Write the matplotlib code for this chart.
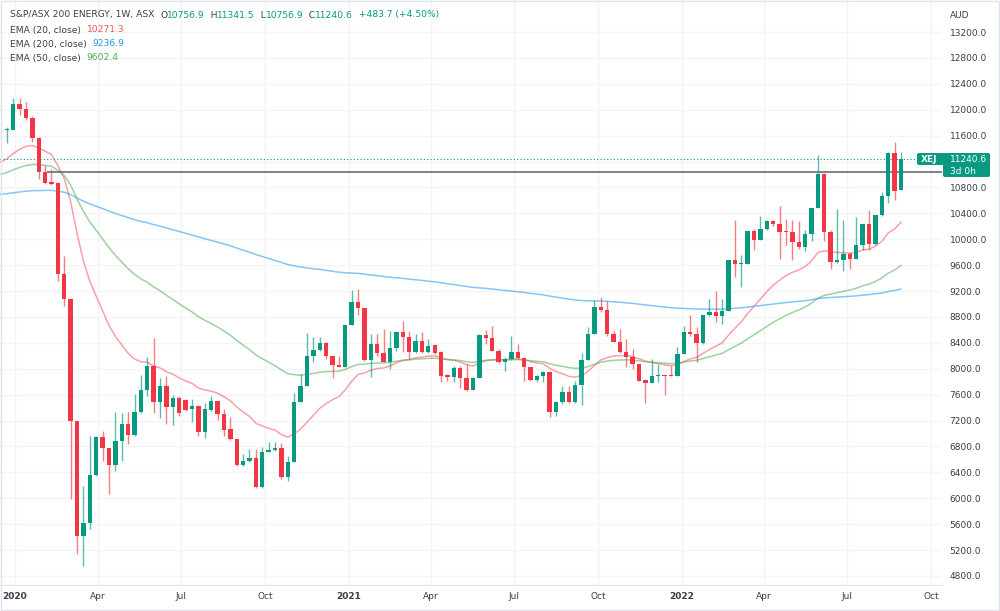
import matplotlib.pyplot as plt
import matplotlib.dates as mdates
from matplotlib.patches import Rectangle, FancyBboxPatch
from matplotlib.transforms import IdentityTransform
import numpy as np
import pandas as pd


# weekly candles, S&P/ASX 200 Energy (XEJ), first week starts 2019-12-23
first_week = "2019-12-23"

opens = [11680, 11694, 12086, 12019, 11880, 11571, 11040, 10885, 10869, 9467,
         9070, 7198, 5420, 5626, 6358, 6941, 6770, 6518, 6879, 7147,
         6982, 7327, 7678, 8049, 7482, 7740, 7404, 7549, 7518, 7379,
         7420, 7028, 7363, 7497, 7301, 7069, 6915, 6512, 6580, 6621,
         6167, 6719, 6745, 6776, 6322, 6564, 7492, 7734, 8204, 8297,
         8400, 8194, 8060, 8034, 8678, 9039, 8941, 8137, 8384, 8245,
         8111, 8317, 8565, 8487, 8266, 8426, 8266, 8369, 8266, 7909,
         7868, 8012, 7858, 7672, 7858, 8528, 8477, 8281, 8110, 8146,
         8255, 8167, 8023, 7832, 7894, 7956, 7327, 7492, 7636, 7481,
         7755, 8136, 8538, 8951, 8915, 8539, 8420, 8266, 8188, 8075,
         7827, 7781, 7895, 7905, 7905, 7895, 8230, 8565, 8539, 8395,
         8823, 8874, 8822, 8889, 9673, 9621, 9621, 10127, 9992, 10163,
         10281, 10230, 10127, 10111, 9956, 9879, 10085, 10487, 11013, 10111,
         9647, 9683, 9766, 9699, 9905, 10230, 9920, 10369, 10663, 11333,
         10756.9]
highs = [11740, 12189, 12174, 12122, 11900, 11580, 11143, 11091, 10880, 9740,
         9080, 7200, 6193, 6966, 6966, 7044, 6775, 7338, 7317, 7338,
         7611, 7910, 8178, 8472, 7853, 7894, 7600, 7585, 7533, 7533,
         7430, 7466, 7585, 7508, 7379, 7260, 6920, 6683, 6760, 6760,
         6786, 6873, 6873, 6847, 6657, 7621, 7920, 8552, 8487, 8487,
         8420, 8200, 8204, 8694, 9220, 9235, 8945, 8539, 8539, 8617,
         8591, 8591, 8745, 8591, 8539, 8565, 8462, 8385, 8270, 7912,
         8049, 8049, 8074, 7878, 8538, 8600, 8667, 8306, 8188, 8513,
         8384, 8177, 8025, 7900, 7960, 7960, 7507, 7739, 7739, 7817,
         8239, 8642, 9060, 9106, 9044, 8591, 8616, 8462, 8307, 8080,
         7830, 8152, 8075, 7910, 8049, 8333, 8668, 8823, 8642, 8823,
         9080, 9199, 9080, 9680, 10292, 9750, 10135, 10163, 10354, 10300,
         10290, 10508, 10317, 10292, 10281, 10137, 10490, 11297, 11020, 10147,
         10472, 10302, 9800, 10343, 10240, 10446, 10375, 10730, 11340, 11503,
         11341.5]
lows = [11480, 11680, 11916, 11839, 11504, 10926, 10859, 10833, 9353, 8977,
        5987, 5146, 4955, 5522, 6348, 6580, 6064, 6415, 6580, 6837,
        6966, 7317, 7585, 7312, 7234, 7147, 7136, 7276, 7353, 7172,
        6966, 6930, 7343, 7209, 6966, 6899, 6502, 6502, 6554, 6160,
        6160, 6709, 6734, 6296, 6260, 6560, 7490, 7730, 8101, 8281,
        8152, 7858, 8024, 8030, 8670, 8823, 8127, 7879, 8204, 8101,
        7998, 8281, 8255, 8152, 8240, 8240, 8240, 8230, 7791, 7817,
        7791, 7703, 7662, 7665, 7850, 8384, 8270, 8085, 7971, 8140,
        8152, 7806, 7817, 7791, 7791, 7260, 7275, 7456, 7475, 7475,
        7440, 8130, 8530, 8874, 8513, 8410, 8240, 8034, 7998, 7810,
        7467, 7775, 7791, 7596, 7890, 7890, 8225, 8513, 8101, 8390,
        8820, 8720, 8694, 8885, 9425, 9260, 9615, 9828, 9985, 10150,
        10200, 9699, 9905, 9683, 9853, 9817, 9972, 10480, 9972, 9544,
        9640, 9508, 9544, 9695, 9838, 9828, 9915, 10365, 10560, 10611,
        10756.9]
closes = [11700, 12086, 12019, 11880, 11571, 11040, 10875, 10854, 9467, 9070,
          7198, 5420, 5626, 6358, 6941, 6770, 6518, 6879, 7147, 6982,
          7327, 7678, 8049, 7482, 7740, 7404, 7549, 7312, 7363, 7420,
          7028, 7379, 7497, 7301, 7054, 6915, 6512, 6580, 6621, 6167,
          6719, 6745, 6776, 6322, 6564, 7492, 7734, 8204, 8297, 8400,
          8194, 8060, 8034, 8678, 9039, 8941, 8137, 8384, 8245, 8111,
          8317, 8565, 8487, 8266, 8426, 8266, 8359, 8240, 7895, 7868,
          8012, 7858, 7672, 7858, 8528, 8477, 8281, 8110, 8146, 8255,
          8167, 8023, 7832, 7894, 7956, 7327, 7492, 7636, 7481, 7755,
          8136, 8538, 8951, 8915, 8539, 8420, 8266, 8188, 8075, 7817,
          7781, 7895, 7910, 7895, 7895, 8230, 8565, 8539, 8395, 8823,
          8874, 8822, 8889, 9673, 9621, 9632, 10127, 9992, 10163, 10281,
          10230, 10111, 10111, 9956, 9879, 10085, 10487, 11013, 10111, 9647,
          9683, 9766, 9699, 9905, 10230, 9920, 10369, 10663, 11333, 10740,
          11240.6]

# EMA settings: period, value one week before the first candle
ema_periods = [20, 200, 50]
ema_seeds = [11194, 10694, 11003]
ema_colors = ["#f7525f", "#2196f3", "#4caf50"]
ema_labels = ["EMA (20, close)", "EMA (200, close)", "EMA (50, close)"]
ema_last = ["10271.3", "9236.9", "9602.4"]

level_line = 11040          # drawn horizontal line
level_start = "2020-02-05"

up = "#089981"
down = "#f23645"
text_col = "#3a3e4a"
grid_col = "#f3f4f7"

W, H = 1000, 611

fig = plt.figure(figsize=(W / 100, H / 100), dpi=100)
ax = fig.add_axes([0, 26 / H, 942 / W, 585 / H])

weeks = pd.date_range(first_week, periods=len(closes), freq="7D")
x = mdates.date2num(weeks)
o = np.array(opens, dtype=float)
c = np.array(closes, dtype=float)
colors = np.where(c >= o, up, down)

# candles
ax.vlines(x, lows, highs, colors=colors, lw=1, alpha=0.65, zorder=2)
body = np.maximum(np.abs(c - o), 14)
ax.bar(x, body, bottom=np.minimum(o, c), width=4.8, color=colors, lw=0, zorder=3)

# moving averages
ema_x = mdates.date2num(pd.date_range(weeks[0] - pd.Timedelta(days=7), periods=len(closes) + 1, freq="7D"))
for per, seed, col in zip(ema_periods, ema_seeds, ema_colors):
    ema = pd.Series([seed] + closes).ewm(span=per, adjust=False).mean()
    ax.plot(ema_x, ema, color=col, lw=1.1, alpha=0.55, zorder=1.5)

# level line and last price line
x_left = mdates.date2num(pd.Timestamp("2019-12-15 14:00"))
x_right = mdates.date2num(pd.Timestamp("2022-10-13"))
ax.hlines(level_line, mdates.date2num(pd.Timestamp(level_start)), x_right,
          color="#5d606b", lw=1.1, zorder=1.8)
ax.axhline(closes[-1], color=up, lw=0.8, ls=(0, (1, 2)), zorder=1.7)

ax.set_xlim(x_left, x_right)
ax.set_ylim(4661, 13695)

# axes and grid
ticks = pd.date_range("2020-01-01", "2022-10-01", freq="QS")
ax.set_xticks(mdates.date2num(ticks))
ax.set_xticklabels([str(t.year) if t.month == 1 else t.strftime("%b") for t in ticks])
for lab, t in zip(ax.get_xticklabels(), ticks):
    if t.month == 1:
        lab.set_fontweight("bold")
yt = np.arange(4800, 13201, 400)
ax.yaxis.tick_right()
ax.set_yticks(yt)
# 11200.0 sits under the last price tag
ax.set_yticklabels(["" if v == 11200 else f"{v:.1f}" for v in yt])
ax.tick_params(axis="both", length=0, labelsize=6.5, colors=text_col)
ax.tick_params(axis="x", pad=5)
ax.tick_params(axis="y", pad=5.5)
ax.grid(True, color=grid_col, lw=1)
ax.set_axisbelow(True)
for s in ["top", "left", "right"]:
    ax.spines[s].set_visible(False)
ax.spines["bottom"].set_color("#e0e3eb")
ax.spines["bottom"].set_linewidth(0.8)

fig.patches.append(Rectangle((0.001, 0.001), 0.998, 0.997, transform=fig.transFigure,
                             fill=False, edgecolor="#e0e3eb", lw=1))

# legend texts, laid out piece by piece in pixels
renderer = fig.canvas.get_renderer()


def pieces(px, py, parts, size=6.6):
    for txt, col in parts:
        t = fig.text(px, H - py, txt, color=col, fontsize=size, va="center",
                     transform=IdentityTransform())
        px = t.get_window_extent(renderer).x1


pieces(10, 15, [("S&P/ASX 200 ENERGY, 1W, ASX  ", text_col), ("O", text_col), ("10756.9", up),
                ("  H", text_col), ("11341.5", up), ("  L", text_col), ("10756.9", up),
                ("  C", text_col), ("11240.6", up), ("  +483.7 (+4.50%)", up)])
for i in range(3):
    pieces(10, 30 + 14 * i, [(ema_labels[i] + "  ", text_col), (ema_last[i], ema_colors[i])])

fig.text(950, H - 15, "AUD", color=text_col, fontsize=6.5, va="center", transform=IdentityTransform())

# last price tag
fig.patches.append(FancyBboxPatch((917, H - 165), 30, 12, boxstyle="round,pad=0,rounding_size=2",
                                  transform=IdentityTransform(), color=up, lw=0))
fig.patches.append(FancyBboxPatch((943, H - 177), 47, 24, boxstyle="round,pad=0,rounding_size=2",
                                  transform=IdentityTransform(), color=up, lw=0))
fig.text(921, H - 159, "XEJ", color="white", fontsize=6.5, fontweight="bold", va="center",
         transform=IdentityTransform())
fig.text(950, H - 159, "11240.6", color="white", fontsize=6.5, va="center",
         transform=IdentityTransform())
fig.text(950, H - 171, "3d 0h", color="white", fontsize=6.5, va="center",
         transform=IdentityTransform())

fig.savefig("out.png", dpi=100)
